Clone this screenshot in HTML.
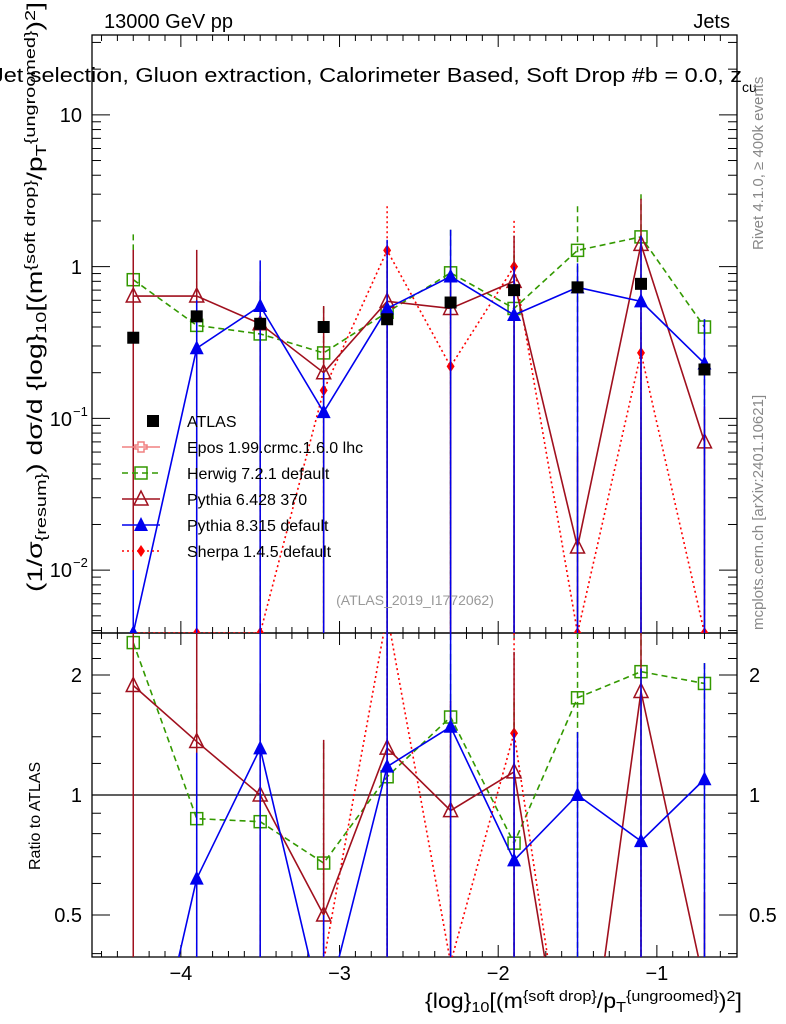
<!DOCTYPE html>
<html><head><meta charset="utf-8"><style>
html,body{margin:0;background:#fff;overflow:hidden;width:786px;height:1024px;}
svg{display:block;font-family:"Liberation Sans",sans-serif;}
</style></head><body>
<svg id="c" width="786" height="1024" viewBox="0 0 786 1024" overflow="hidden"></svg>
<script>
const xCenters=[-4.3,-3.9,-3.5,-3.1,-2.7,-2.3,-1.9,-1.5,-1.1,-0.7];
const atlas=[0.34,0.47,0.42,0.40,0.45,0.58,0.70,0.73,0.77,0.21];
const herwig=[0.82,0.41,0.36,0.27,0.50,0.91,0.53,1.28,1.57,0.40];
const herwigHi=[1.63,0.8,0.75,0.54,1.1,1.75,1.2,2.5,3.0,0.45];
const py6=[0.64,0.64,0.42,0.20,0.59,0.53,0.80,0.0142,1.40,0.070];
const py6Hi=[1.29,1.29,0.8,0.55,1.1,1.0,1.6,0.06,2.8,0.12];
const py8=[0.001,0.29,0.55,0.11,0.53,0.86,0.48,0.73,0.59,0.23];
const py8Hi=[0.01,0.6,1.1,0.2,1.5,1.75,1.0,1.05,1.6,0.45];
const sherpa=[0,0,0,0.153,1.28,0.22,1.0,0,0.27,0];
const sherpaHi=[0,0,0,0.35,2.5,1.0,2.0,0,0.5,0];
const xTicks=[-4,-3,-2,-1];
const yTicks=[10,1,0.1,0.01];
const rTicks=[2,1,0.5];

const svg=document.getElementById('c');
const NS='http://www.w3.org/2000/svg';
function el(t,a,p){const e=document.createElementNS(NS,t);for(const k in a)e.setAttribute(k,a[k]);(p||svg).appendChild(e);return e;}
const L=92,R=737,T=35,M=633,B=957;
const X=v=>L+(v+4.56)/(4.065)*(R-L);
const ylo=-2.414,yhi=1.526;
const Y=v=>{let l=v>0?Math.log10(v):-99;l=Math.max(ylo,Math.min(yhi+0.3,l));return M-(l-ylo)/(yhi-ylo)*(M-T);};
const rl=0.4064;
const RY=v=>{let l=v>0?Math.log10(v):-99;l=Math.max(-rl-0.5,Math.min(rl+0.5,l));return 795-l*398.6;};

const defs=el('defs',{});
const c1=el('clipPath',{id:'cm'},defs);el('rect',{x:L,y:T,width:R-L,height:M-T},c1);
const c2=el('clipPath',{id:'cr'},defs);el('rect',{x:L,y:M,width:R-L,height:B-M},c2);

el('rect',{x:L,y:T,width:R-L,height:M-T,fill:'none',stroke:'#000','stroke-width':1.3,});
el('rect',{x:L,y:M,width:R-L,height:B-M,fill:'none',stroke:'#000','stroke-width':1.3,});
el('line',{x1:L,x2:R,y1:795,y2:795,stroke:'#000','stroke-width':1.2,});

for(let v=-4.5;v<=-0.5;v+=0.1){const x=X(v);const major=Math.abs(v-Math.round(v))<0.01;const h=major?12:6;
 [[M,-1],[B,-1],[T,1],[M,1]].forEach(([y,s])=>el('line',{x1:x,x2:x,y1:y,y2:y+s*h,stroke:'#000','stroke-width':1}));}
xTicks.forEach(v=>{const t=el('text',{x:X(v),y:980,'font-size':20,'text-anchor':'middle',});t.textContent='\u2212'+Math.abs(v);});
for(let d=-3;d<=1;d++)for(let m=1;m<10;m++){const v=m*Math.pow(10,d);const l=Math.log10(v);if(l<ylo||l>yhi)continue;const y=Y(v);const h=m==1?18:9;
 el('line',{x1:L,x2:L+h,y1:y,y2:y,stroke:'#000'});el('line',{x1:R,x2:R-h,y1:y,y2:y,stroke:'#000'});}
[[ '10',115,''],['1',267,''],['10',419,'\u22121'],['10',570,'\u22122']].forEach(([a,y,e])=>{const t=el('text',{x:e?72:82,y:y+7,'font-size':20,'text-anchor':'end',});t.textContent=a;
 if(e){const s=el('text',{x:73,y:y-3,'font-size':13,});s.textContent=e;}});
[0.4,0.5,0.6,0.7,0.8,0.9,1,2].forEach(v=>{const y=RY(v);const h=(v==1||v==2||v==0.5)?18:9;el('line',{x1:L,x2:L+h,y1:y,y2:y,stroke:'#000'});el('line',{x1:R,x2:R-h,y1:y,y2:y,stroke:'#000'});});
[1.2,1.4,1.6,1.8,2.2,2.4].forEach(v=>{const y=RY(v);el('line',{x1:L,x2:L+9,y1:y,y2:y,stroke:'#000'});el('line',{x1:R,x2:R-9,y1:y,y2:y,stroke:'#000'});});
rTicks.forEach(v=>{const y=RY(v)+7;let t=el('text',{x:82,y,'font-size':20,'text-anchor':'end',});t.textContent=v;
 t=el('text',{x:749,y,'font-size':20,});t.textContent=v;});

function marker(g,type,x,y,col){
 if(type=='sq')el('rect',{x:x-6,y:y-6,width:12,height:12,fill:'none',stroke:col,'stroke-width':1.5},g);
 if(type=='fsq')el('rect',{x:x-6,y:y-6,width:12,height:12,fill:col},g);
 if(type=='otri')el('polygon',{points:`${x},${y-8} ${x-7},${y+6} ${x+7},${y+6}`,fill:'none',stroke:col,'stroke-width':1.5},g);
 if(type=='tri')el('polygon',{points:`${x},${y-8} ${x-7},${y+6} ${x+7},${y+6}`,fill:col},g);
 if(type=='dia')el('polygon',{points:`${x},${y-6} ${x-4},${y} ${x},${y+6} ${x+4},${y}`,fill:col},g);
}
function series(name,vals,hi,col,dash,type){
 const gm=el('g',{'clip-path':'url(#cm)',});
 const gr=el('g',{'clip-path':'url(#cr)',});
 const pts=xCenters.map((x,i)=>[X(x),Y(vals[i])]);
 xCenters.forEach((x,i)=>{el('line',{x1:X(x),x2:X(x),y1:Y(hi[i]),y2:M,stroke:col,'stroke-width':1.5,'stroke-dasharray':dash},gm);});
 el('polyline',{points:pts.map(p=>p.join(',')).join(' '),fill:'none',stroke:col,'stroke-width':1.6,'stroke-dasharray':dash},gm);
 pts.forEach(p=>marker(gm,type,p[0],Math.min(p[1],M),col));
 const rp=xCenters.map((x,i)=>[X(x),RY(vals[i]/atlas[i])]);
 xCenters.forEach((x,i)=>{el('line',{x1:X(x),x2:X(x),y1:RY(hi[i]/atlas[i]),y2:B,stroke:col,'stroke-width':1.5,'stroke-dasharray':dash},gr);});
 el('polyline',{points:rp.map(p=>p.join(',')).join(' '),fill:'none',stroke:col,'stroke-width':1.6,'stroke-dasharray':dash},gr);
 rp.forEach(p=>marker(gr,type,p[0],p[1],col));
}
series('herwig',herwig,herwigHi,'#339900','6,4','sq');
series('sherpa',sherpa,sherpaHi,'#ff0000','2,3','dia');
series('pythia6',py6,py6Hi,'#a0101e','','otri');
series('pythia8',py8,py8Hi,'#0000ee','','tri');
const ga=el('g',{});
xCenters.forEach((x,i)=>marker(ga,'fsq',X(x),Y(atlas[i]),'#000'));

const leg=[['ATLAS','#000','','fsq'],['Epos 1.99.crmc.1.6.0 lhc','#f08080','','cross'],['Herwig 7.2.1 default','#339900','6,4','sq'],['Pythia 6.428 370','#a0101e','','otri'],['Pythia 8.315 default','#0000ee','','tri'],['Sherpa 1.4.5 default','#ff0000','2,3','dia']];
leg.forEach((e,i)=>{const y=421+i*26;const g=el('g',{});
 if(i>0)el('line',{x1:122,x2:160,y1:y,y2:y,stroke:e[1],'stroke-width':1.6,'stroke-dasharray':e[2]},g);
 if(e[3]=='cross'){el('path',{d:`M138,${y-5}h6v3h3v4h-3v3h-6v-3h-3v-4h3z`,fill:'none',stroke:e[1],'stroke-width':1.5},g);}
 else marker(g,e[3],e[3]=='fsq'?153:141,y,e[1]);
 const t=el('text',{x:187,y:y+6,'font-size':16,fill:'#000'},g);t.textContent=e[0];});

function tx(s,a,name){const t=el('text',Object.assign({},a));t.textContent=s;return t;}
function rich(parts,a,name){const t=el('text',Object.assign({},a));
 parts.forEach(([s,k])=>{const sp=el('tspan',{},t);sp.textContent=s;
  if(k=='sub'){sp.setAttribute('font-size','0.7em');sp.setAttribute('baseline-shift','-25%');}
  if(k=='sup'){sp.setAttribute('font-size','0.7em');sp.setAttribute('baseline-shift','45%');}});return t;}
tx('13000 GeV pp',{x:104,y:28,'font-size':20},'title-energy');
tx('Jets',{x:730,y:28,'font-size':20,'text-anchor':'end'},'title-jets');
tx('Jet selection, Gluon extraction, Calorimeter Based, Soft Drop #b = 0.0, z',{x:-8,y:82,'font-size':20,textLength:750,lengthAdjust:'spacingAndGlyphs'},'plot-subtitle');
tx('cu',{x:742,y:92,'font-size':14},'subtitle-sub');
tx('(ATLAS_2019_I1772062)',{x:415,y:605,'font-size':14,fill:'#999','text-anchor':'middle'},'analysis-id');
tx('Rivet 4.1.0, \u2265 400k events',{x:0,y:0,'font-size':15,fill:'#888',transform:'translate(763,250) rotate(-90)'},'rivet-version');
tx('mcplots.cern.ch [arXiv:2401.10621]',{x:0,y:0,'font-size':15,fill:'#888',transform:'translate(763,630) rotate(-90)'},'mcplots-credit');
rich([['(1/\u03C3'],['{resum}','sub'],[') d\u03C3/d {log}'],['10','sub'],['[(m'],['{soft drop}','sup'],['/p'],['T','sub'],['{ungroomed}','sup'],[')'],['2','sup'],[']']],
 {x:0,y:0,'font-size':21,textLength:590,lengthAdjust:'spacingAndGlyphs',transform:'translate(42,592) rotate(-90)'},'y-axis-title');
tx('Ratio to ATLAS',{x:0,y:0,'font-size':16,transform:'translate(40,870) rotate(-90)'},'ratio-axis-title');
rich([['{log}'],['10','sub'],['[(m'],['{soft drop}','sup'],['/p'],['T','sub'],['{ungroomed}','sup'],[')'],['2','sup'],[']']],
 {x:425,y:1008,'font-size':21,textLength:317,lengthAdjust:'spacingAndGlyphs'},'x-axis-title');
</script>
</body></html>
